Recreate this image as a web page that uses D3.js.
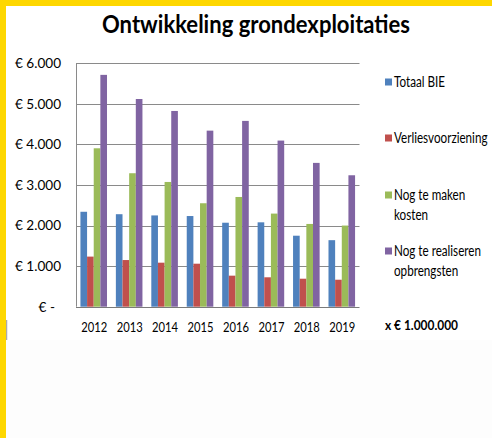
<!DOCTYPE html>
<html><head><meta charset="utf-8">
<script src="https://cdn.jsdelivr.net/npm/d3@7"></script>
<style>html,body{margin:0;padding:0;background:#fdfdfd;}svg{display:block;}text{font-family:Lato,"Open Sans",sans-serif;fill:#000;}</style>
</head><body>
<script>
const years = ["2012","2013","2014","2015","2016","2017","2018","2019"];
const seriesNames = ["Totaal BIE","Verliesvoorziening","Nog te maken kosten","Nog te realiseren opbrengsten"];
const legendLines = [["Totaal BIE"],["Verliesvoorziening"],["Nog te maken","kosten"],["Nog te realiseren","opbrengsten"]];
const totaalBIE = [2340,2280,2250,2235,2070,2080,1750,1640];
const verliesvoorziening = [1235,1150,1085,1060,765,725,690,665];
const nogTeMakenKosten = [3905,3290,3075,2550,2705,2295,2040,2000];
const nogTeRealiserenOpbrengsten = [5715,5120,4825,4340,4580,4095,3545,3240];
const yTicks = [0,1000,2000,3000,4000,5000,6000];
const yTickLabels = ["€ -","€ 1.000","€ 2.000","€ 3.000","€ 4.000","€ 5.000","€ 6.000"];
const colors = ["#4F81BD","#C0504D","#9BBB59","#8064A2"];
const unitNote = "x € 1.000.000";
const chartTitle = "Ontwikkeling grondexploitaties";

(function(){
const values = [totaalBIE, verliesvoorziening, nogTeMakenKosten, nogTeRealiserenOpbrengsten];
const W = 492, H = 438;
const svg = d3.select("body").append("svg").attr("width", W).attr("height", H);

svg.append("rect").attr("x",0).attr("y",0).attr("width",W).attr("height",H).attr("fill","#fdfdfd");
svg.append("rect").attr("x",6).attr("y",6).attr("width",W-6).attr("height",334).attr("fill","#fff");
svg.append("line").attr("x1",6.5).attr("x2",6.5).attr("y1",320).attr("y2",340).attr("stroke","#aaa").attr("stroke-width",1.5);
svg.append("rect").attr("x",0).attr("y",0).attr("width",W).attr("height",6).attr("fill","#FED700");
svg.append("rect").attr("x",0).attr("y",0).attr("width",6).attr("height",H).attr("fill","#FED700");

function applyFactor(sel, factor){
  sel.each(function(){
    const len = this.getComputedTextLength();
    d3.select(this).attr("textLength", len*factor).attr("lengthAdjust","spacingAndGlyphs");
  });
}

const t = svg.append("text").attr("x",256).attr("y",33).attr("text-anchor","middle")
  .attr("font-size",24).attr("font-weight",700).text(chartTitle);
applyFactor(t, 308/t.node().getComputedTextLength());

const pl = 76, pr = 359.5, pt = 63.3, pb = 306.7;
const x0 = d3.scaleBand().domain(years).range([pl,pr]).paddingInner(0.25).paddingOuter(0.125);
const x1 = d3.scaleBand().domain(d3.range(4)).range([0,x0.bandwidth()]);
const y = d3.scaleLinear().domain([0,6000]).range([pb,pt]);

svg.append("g").selectAll("line").data(yTicks.filter(d=>d>0)).join("line")
  .attr("x1",pl).attr("x2",pr).attr("y1",d=>Math.round(y(d))+0.5).attr("y2",d=>Math.round(y(d))+0.5)
  .attr("stroke","#8a8a8a").attr("stroke-width",1);

const g = svg.append("g");
years.forEach((yr,i)=>{
  values.forEach((arr,s)=>{
    g.append("rect").attr("x",x0(yr)+x1(s)).attr("width",x1.bandwidth())
      .attr("y",y(arr[i])).attr("height",pb-y(arr[i])).attr("fill",colors[s]);
  });
});

svg.append("line").attr("x1",pl+0.5).attr("x2",pl+0.5).attr("y1",pt).attr("y2",pb).attr("stroke","#8a8a8a");
svg.append("line").attr("x1",pl).attr("x2",pr).attr("y1",Math.round(pb)+0.5).attr("y2",Math.round(pb)+0.5).attr("stroke","#7a7a7a").attr("stroke-width",1.2);

const yl = svg.append("g").selectAll("text").data(yTicks).join("text")
  .attr("x",(d,i)=> i===0 ? 55 : 61).attr("y",d=>y(d)).attr("dy","0.36em")
  .attr("text-anchor","end").attr("font-size",13.5).text((d,i)=>yTickLabels[i]);
const yRef = yl.filter((d,i)=>i===6).node().getComputedTextLength();
applyFactor(yl, 46/yRef);

const xl = svg.append("g").selectAll("text").data(years).join("text")
  .attr("x",d=>x0(d)+x0.bandwidth()/2+0.5).attr("y",327).attr("dy","0.36em")
  .attr("text-anchor","middle").attr("font-size",13.5).text(d=>d);
applyFactor(xl, 26/xl.node().getComputedTextLength());

const legY = [82,138,195,251];
const lg = svg.append("g");
const legTexts = [];
seriesNames.forEach((name,i)=>{
  lg.append("rect").attr("x",385).attr("y",legY[i]-3.5).attr("width",7).attr("height",7).attr("fill",colors[i]);
  legendLines[i].forEach((ln,j)=>{
    legTexts.push(lg.append("text").attr("x",394).attr("y",legY[i]+j*20).attr("dy","0.36em")
      .attr("font-size",14.5).text(ln).node());
  });
});
applyFactor(d3.selectAll(legTexts), 51/legTexts[0].getComputedTextLength());

const un = svg.append("text").attr("x",385).attr("y",325).attr("dy","0.36em")
  .attr("font-size",13).attr("font-weight",700).text(unitNote);
applyFactor(un, 73/un.node().getComputedTextLength());
})();
</script>
</body></html>
